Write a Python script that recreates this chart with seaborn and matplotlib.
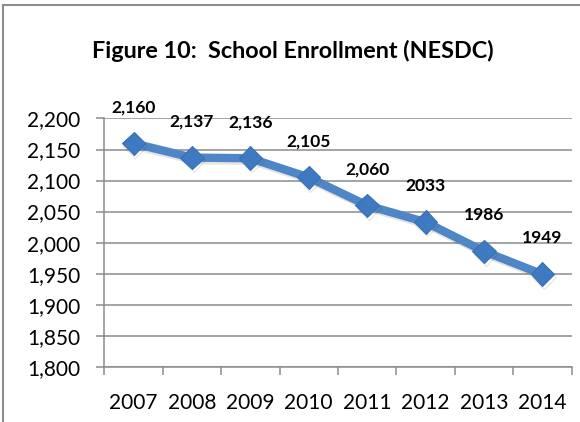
import matplotlib
matplotlib.use("Agg")
import matplotlib.pyplot as plt
import matplotlib.patheffects as pe
from matplotlib.patches import Rectangle
from matplotlib.ticker import FuncFormatter, FixedLocator
import seaborn as sns
import pandas as pd

years = ["2007", "2008", "2009", "2010", "2011", "2012", "2013", "2014"]
enrollment = [2160, 2137, 2136, 2105, 2060, 2033, 1986, 1949]
value_labels = ["2,160", "2,137", "2,136", "2,105", "2,060", "2033", "1986", "1949"]
title = "Figure 10:  School Enrollment (NESDC)"

sns.set_theme(style="white")
plt.rcParams["font.family"] = ["Lato", "DejaVu Sans"]

df = pd.DataFrame({"year": years, "enrollment": enrollment})

fig = plt.figure(figsize=(5.8, 4.22), dpi=100)
ax = fig.add_axes([104.3 / 580, 55.3 / 422, (571.5 - 104.3) / 580, (366.7 - 118.5) / 422])

grid_c = "#8C8C8C"
line_c = "#4F86C6"

sns.lineplot(data=df, x="year", y="enrollment", ax=ax, color=line_c, linewidth=6,
             marker="D", markersize=12, markerfacecolor="#3D7AC2",
             markeredgecolor="#3A70B3", markeredgewidth=0.8, sort=False,
             path_effects=[pe.SimpleLineShadow(offset=(1.2, -1.8), alpha=0.12, shadow_color="#222222"),
                           pe.Normal()])

ax.set_ylim(1800, 2200)
ax.set_xlim(-0.5, len(years) - 0.5)
ax.set_yticks(range(1800, 2201, 50))
ax.yaxis.set_major_formatter(FuncFormatter(lambda v, p: f"{int(v):,}"))
ax.set_xticks(range(len(years)))
ax.set_xticklabels(years)
ax.xaxis.set_minor_locator(FixedLocator([i - 0.5 for i in range(len(years) + 1)]))

ax.grid(axis="y", color=grid_c, linewidth=1.1)
ax.set_axisbelow(True)
for s in ["top", "right"]:
    ax.spines[s].set_visible(False)
for s in ["left", "bottom"]:
    ax.spines[s].set_color(grid_c)
    ax.spines[s].set_linewidth(1.1)

ax.tick_params(axis="y", which="major", left=True, length=6, width=1.1, color=grid_c,
               pad=11, labelsize=15, labelcolor="#000000")
ax.tick_params(axis="x", which="major", bottom=False, pad=13, labelsize=15, labelcolor="#000000")
ax.tick_params(axis="x", which="minor", bottom=True, length=6, width=1.1, color=grid_c)
ax.set_xlabel("")
ax.set_ylabel("")

for i, (v, lab) in enumerate(zip(enrollment, value_labels)):
    ax.annotate(lab, xy=(i, v), xytext=(0, 26), textcoords="offset points",
                ha="center", va="center", fontsize=12.5, fontweight="bold", color="#000000")

fig.text(293 / 580, 1 - 50.5 / 422, title, ha="center", va="center",
         fontsize=16.8, fontweight="bold", color="#000000")

fig.patches.append(Rectangle((2.5 / 580, -0.1), 1.2, 1 - 4.5 / 422 + 0.1,
                             transform=fig.transFigure, fill=False,
                             edgecolor="#8C8C8C", linewidth=1.5))

fig.savefig("out.png", dpi=100)
